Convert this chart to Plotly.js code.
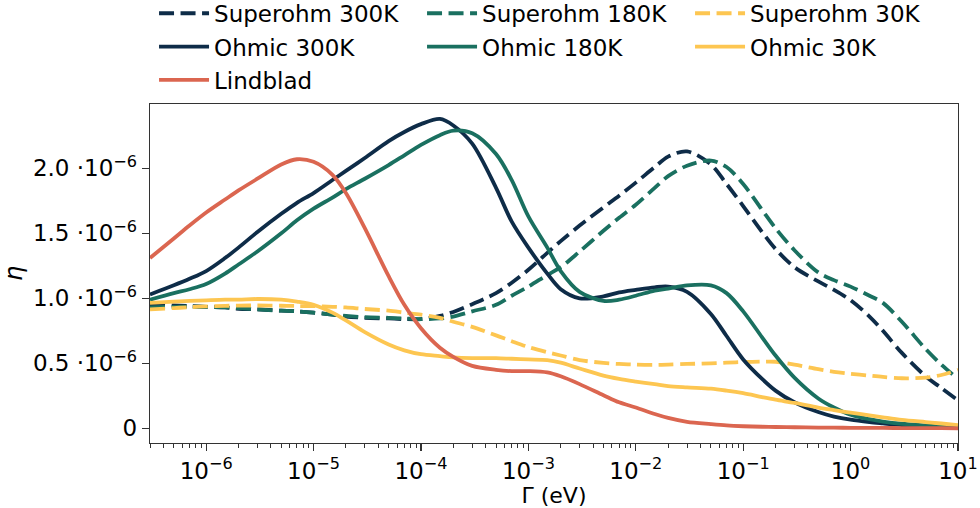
<!DOCTYPE html>
<html>
<head>
<meta charset="utf-8">
<script src="https://cdn.plot.ly/plotly-3.0.1.min.js"></script>
<style>html,body{margin:0;padding:0;background:#fff;}#chart{width:980px;height:508px;}</style>
</head>
<body>
<div id="chart"></div>
<script>
// Gamma grid (eV)
const gamma = [3e-7, 5e-7, 7e-7, 1e-6, 1.5e-6, 2e-6, 3e-6, 5e-6, 7e-6,
  1e-5, 1.5e-5, 2e-5, 3e-5, 5e-5, 7e-5, 1e-4, 1.5e-4, 2e-4, 3e-4, 5e-4, 7e-4,
  1e-3, 1.5e-3, 2e-3, 3e-3, 5e-3, 7e-3, 1e-2, 1.5e-2, 2e-2, 3e-2, 5e-2, 7e-2,
  0.1, 0.15, 0.2, 0.3, 0.5, 0.7, 1, 1.5, 2, 3, 5, 7, 10];

// eta values in units of 1e-6
const superohm300 = [0.95,0.945,0.94,0.935,0.93,0.92,0.915,0.905,0.90,0.89,0.875,0.86,0.85,0.845,0.84,0.84,0.865,0.895,0.955,1.04,1.12,1.22,1.35,1.44,1.56,1.70,1.79,1.89,2.01,2.09,2.13,2.03,1.88,1.71,1.51,1.38,1.24,1.13,1.065,0.985,0.86,0.75,0.58,0.40,0.31,0.215];
const superohm180 = [0.93,0.935,0.935,0.935,0.93,0.925,0.915,0.905,0.90,0.89,0.875,0.865,0.855,0.85,0.845,0.84,0.845,0.86,0.90,0.95,1.02,1.09,1.18,1.24,1.36,1.52,1.62,1.72,1.85,1.94,2.02,2.06,2.01,1.88,1.68,1.54,1.37,1.20,1.14,1.09,1.02,0.965,0.82,0.61,0.49,0.38];
const superohm30 = [0.915,0.925,0.932,0.938,0.942,0.944,0.945,0.943,0.941,0.94,0.935,0.93,0.918,0.905,0.89,0.875,0.85,0.82,0.78,0.715,0.67,0.625,0.585,0.56,0.525,0.503,0.495,0.49,0.488,0.49,0.495,0.50,0.505,0.51,0.513,0.512,0.49,0.455,0.435,0.42,0.405,0.395,0.385,0.39,0.41,0.45];
const ohmic300 = [1.03,1.10,1.15,1.21,1.31,1.39,1.51,1.65,1.735,1.81,1.91,1.98,2.08,2.21,2.28,2.34,2.38,2.33,2.19,1.85,1.59,1.39,1.19,1.07,1.00,1.015,1.045,1.065,1.085,1.09,1.05,0.88,0.71,0.53,0.38,0.29,0.20,0.125,0.09,0.066,0.048,0.038,0.025,0.015,0.008,0.003];
const ohmic180 = [0.99,1.04,1.07,1.11,1.19,1.26,1.36,1.50,1.60,1.69,1.775,1.84,1.92,2.025,2.10,2.18,2.255,2.29,2.27,2.11,1.91,1.63,1.39,1.21,1.05,0.98,0.99,1.02,1.06,1.075,1.10,1.10,1.04,0.90,0.70,0.56,0.39,0.23,0.16,0.105,0.07,0.052,0.035,0.022,0.015,0.01];
const ohmic30 = [0.965,0.975,0.98,0.985,0.99,0.99,0.995,0.99,0.975,0.95,0.89,0.83,0.74,0.645,0.60,0.57,0.555,0.545,0.54,0.54,0.535,0.53,0.525,0.505,0.46,0.405,0.38,0.36,0.34,0.325,0.315,0.305,0.29,0.27,0.24,0.22,0.195,0.16,0.14,0.12,0.10,0.085,0.065,0.048,0.037,0.025];
const lindblad = [1.31,1.46,1.56,1.66,1.76,1.83,1.92,2.03,2.07,2.05,1.95,1.81,1.54,1.17,0.95,0.77,0.62,0.55,0.48,0.45,0.44,0.44,0.43,0.40,0.34,0.255,0.20,0.16,0.11,0.08,0.05,0.032,0.022,0.016,0.012,0.01,0.008,0.006,0.005,0.004,0.003,0.003,0.002,0.001,0.001,0.0];

// tick labels
const xTickVals = [1e-6, 1e-5, 1e-4, 1e-3, 1e-2, 1e-1, 1, 10];
const xTickText = ['10<sup>−6</sup>','10<sup>−5</sup>','10<sup>−4</sup>','10<sup>−3</sup>','10<sup>−2</sup>','10<sup>−1</sup>','10<sup>0</sup>','10<sup>1</sup>'];
const yTickVals = [0, 0.5, 1.0, 1.5, 2.0];
const yTickText = ['0','0.5 ·10<sup>−6</sup>','1.0 ·10<sup>−6</sup>','1.5 ·10<sup>−6</sup>','2.0 ·10<sup>−6</sup>'];

const NAVY = '#0e2c48', TEAL = '#1a7060', YELLOW = '#fdc651', RED = '#db6650';
const LW = 3.8, DASH = '15px,6.5px';

function tr(name, y, color, dash, legend) {
  return {x: gamma, y: y, name: name, type: 'scatter', mode: 'lines', legend: legend,
    line: {color: color, width: LW, dash: dash, shape: 'spline', smoothing: 0.9}};
}
const data = [
  tr('Superohm 300K', superohm300, NAVY, DASH, 'legend'),
  tr('Superohm 180K', superohm180, TEAL, DASH, 'legend'),
  tr('Superohm 30K', superohm30, YELLOW, DASH, 'legend'),
  tr('Ohmic 300K', ohmic300, NAVY, 'solid', 'legend2'),
  tr('Ohmic 180K', ohmic180, TEAL, 'solid', 'legend2'),
  tr('Ohmic 30K', ohmic30, YELLOW, 'solid', 'legend2'),
  tr('Lindblad', lindblad, RED, 'solid', 'legend3')
];

const minorVals = [];
for (let d = -7; d <= 0; d++) for (let k = 2; k <= 9; k++) minorVals.push(k * Math.pow(10, d));

function leg(y) {
  return {orientation: 'h', x: 0.005, xanchor: 'left', y: y, yanchor: 'middle',
    xref: 'paper', yref: 'paper', entrywidth: 203, entrywidthmode: 'pixels', itemwidth: 50,
    font: {family: 'DejaVu Sans', size: 23, color: '#000'}, bgcolor: 'rgba(0,0,0,0)',
    borderwidth: 0, traceorder: 'normal'};
}

const layout = {
  width: 980, height: 508,
  margin: {l: 150, r: 22, t: 104, b: 65, autoexpand: false},
  paper_bgcolor: '#fff', plot_bgcolor: '#fff',
  font: {family: 'DejaVu Sans', size: 23, color: '#000'},
  showlegend: true,
  legend: leg(1.2676),
  legend2: leg(1.169),
  legend3: leg(1.0708),
  xaxis: {
    type: 'log', range: [Math.log10(3e-7), 1],
    tickmode: 'array', tickvals: xTickVals, ticktext: xTickText,
    ticks: 'outside', ticklen: 7, tickwidth: 1.2, tickcolor: '#333',
    showline: true, mirror: true, linecolor: '#333', linewidth: 1.3,
    showgrid: false, zeroline: false,
    tickfont: {size: 23},
    minor: {tickmode: 'array', tickvals: minorVals, ticks: 'outside', ticklen: 4, tickwidth: 1, tickcolor: '#333', showgrid: false},
    title: {text: 'Γ (eV)', font: {size: 22}, standoff: 6}
  },
  yaxis: {
    range: [-0.113, 2.495],
    tickmode: 'array', tickvals: yTickVals, ticktext: yTickText,
    ticks: 'outside', ticklen: 7, tickwidth: 1.2, tickcolor: '#333',
    showline: true, mirror: true, linecolor: '#333', linewidth: 1.3,
    showgrid: false, zeroline: false,
    tickfont: {size: 23},
    title: {text: '<i>η</i>', font: {size: 24}, standoff: 10}
  }
};

Plotly.newPlot('chart', data, layout, {displayModeBar: false, staticPlot: true});
</script>
</body>
</html>
